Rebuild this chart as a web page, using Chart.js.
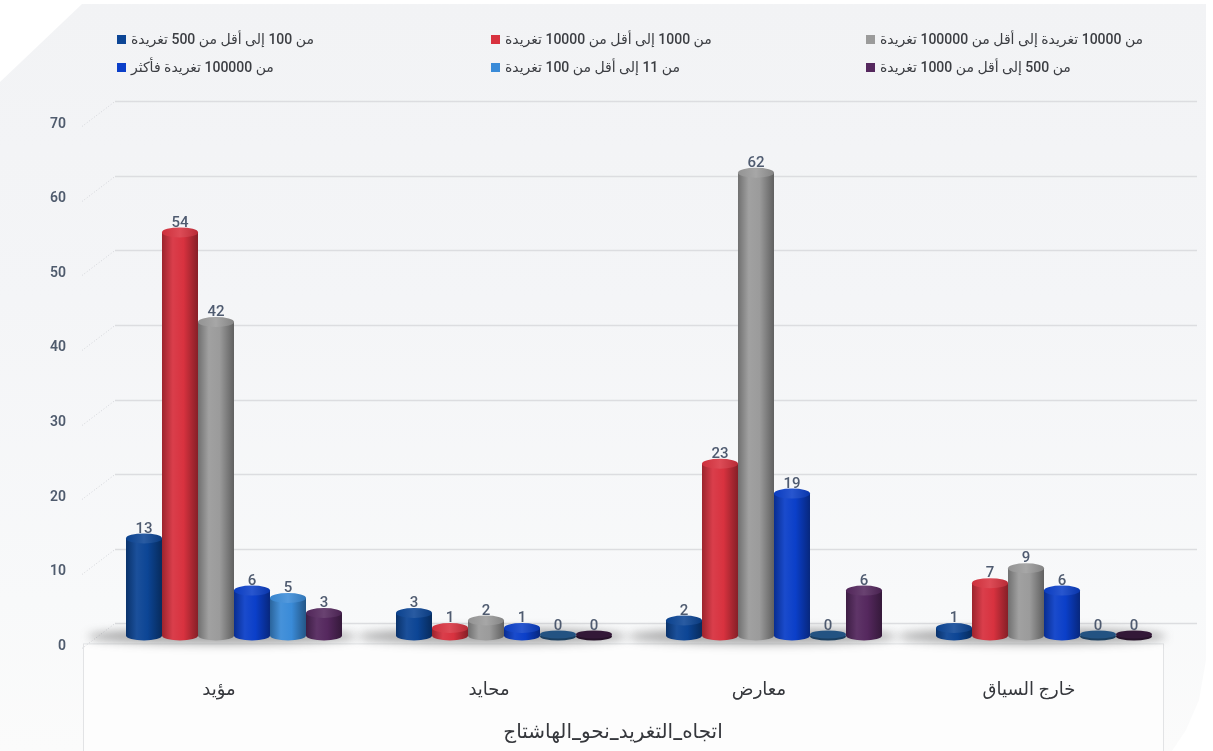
<!DOCTYPE html>
<html lang="ar">
<head>
<meta charset="utf-8">
<title>اتجاه التغريد نحو الهاشتاج</title>
<script src="https://cdn.jsdelivr.net/npm/chart.js@4.4.1/dist/chart.umd.min.js"></script>
<style>
    html, body { margin: 0; padding: 0; background: #fff; }
    #wrap { position: relative; width: 1213px; height: 751px; overflow: hidden; }
    #bg {
        position: absolute; inset: 0;
        background: linear-gradient(#f2f3f5 0%, #f4f5f7 40%, #f8f9fa 80%, #fbfbfb 100%);
        clip-path: polygon(82px 4px, 1206px 4px, 1206px 660px, 1199px 700px, 1186px 730px, 1172px 751px, 0 751px, 0 82px);
    }
    canvas { position: absolute; left: 0; top: 0; }
</style>
</head>
<body>
<div id="wrap">
    <div id="bg"></div>
    <canvas id="chartTrend" width="1213" height="751"></canvas>
</div>
<script>
// ==================================================
// DATA
// ==================================================
const categories = ['مؤيد', 'محايد', 'معارض', 'خارج السياق'];
const axisTitle = 'اتجاه_التغريد_نحو_الهاشتاج';

const seriesNames = [
    'من 100 إلى أقل من 500 تغريدة',
    'من 1000 إلى أقل من 10000 تغريدة',
    'من 10000 تغريدة إلى أقل من 100000 تغريدة',
    'من 100000 تغريدة فأكثر',
    'من 11 إلى أقل من 100 تغريدة',
    'من 500 إلى أقل من 1000 تغريدة',
];
const seriesColors = ['#0c4595', '#d8323f', '#9b9b9b', '#0b3fc9', '#3a8bd8', '#55285e'];

const from100to500 = [13, 3, 2, 1];
const from1000to10000 = [54, 1, 23, 7];
const from10000to100000 = [42, 2, 62, 9];
const from100000up = [6, 1, 19, 6];
const from11to100 = [5, 0, 0, 0];
const from500to1000 = [3, 0, 6, 0];

const yTicks = [0, 10, 20, 30, 40, 50, 60, 70];

const seriesValues = [from100to500, from1000to10000, from10000to100000, from100000up, from11to100, from500to1000];

const FONT = "Roboto, 'DejaVu Sans', sans-serif";
const CAP_RY = 5;       // half height of the cylinder caps
const WALL_DX = 16;     // depth offset of the back wall
const WALL_DY = 12;

// ==================================================
// HELPERS
// ==================================================
function shade(hex, amt) {
    const n = parseInt(hex.slice(1), 16);
    let r = (n >> 16) & 255, g = (n >> 8) & 255, b = n & 255;
    const t = amt < 0 ? 0 : 255, p = Math.abs(amt);
    r = Math.round(r + (t - r) * p); g = Math.round(g + (t - g) * p); b = Math.round(b + (t - b) * p);
    return `rgb(${r},${g},${b})`;
}

function drawCylinder(ctx, x, top, base, w, color) {
    const rx = w / 2, left = x - rx, right = x + rx;
    const body = ctx.createLinearGradient(left, 0, right, 0);
    body.addColorStop(0, shade(color, -0.28));
    body.addColorStop(0.3, shade(color, 0.06));
    body.addColorStop(0.6, color);
    body.addColorStop(1, shade(color, -0.38));

    if (base - top < 1) {
        // flat disc for zero values
        ctx.beginPath();
        ctx.ellipse(x, base + 1, rx, CAP_RY - 1, 0, 0, Math.PI * 2);
        ctx.fillStyle = shade(color, -0.55);
        ctx.fill();
        ctx.beginPath();
        ctx.ellipse(x, base - 1, rx, CAP_RY - 1, 0, 0, Math.PI * 2);
        ctx.fillStyle = shade(color, -0.4);
        ctx.fill();
        return;
    }

    ctx.beginPath();
    ctx.moveTo(left, top);
    ctx.lineTo(left, base);
    ctx.ellipse(x, base, rx, CAP_RY, 0, Math.PI, 0, true);
    ctx.lineTo(right, top);
    ctx.closePath();
    ctx.fillStyle = body;
    ctx.fill();

    const cap = ctx.createLinearGradient(left, 0, right, 0);
    cap.addColorStop(0, shade(color, -0.05));
    cap.addColorStop(0.5, shade(color, 0.12));
    cap.addColorStop(1, shade(color, -0.15));
    ctx.beginPath();
    ctx.ellipse(x, top, rx, CAP_RY, 0, 0, Math.PI * 2);
    ctx.fillStyle = cap;
    ctx.fill();
}

// ==================================================
// PLUGINS
// ==================================================
const backWall = {
    id: 'backWall',
    beforeDraw(chart) {
        const { ctx, chartArea, scales: { y } } = chart;
        const front = y.getPixelForValue(0) - WALL_DY + 20;
        // front panel holding the category labels
        ctx.save();
        ctx.fillStyle = '#fdfdfd';
        ctx.strokeStyle = '#e2e3e5';
        ctx.lineWidth = 1;
        ctx.fillRect(chartArea.left - WALL_DX, front, chartArea.right - chartArea.left, 200);
        ctx.strokeRect(chartArea.left - WALL_DX + 0.5, front + 0.5, chartArea.right - chartArea.left, 200);
        ctx.restore();
    },
    beforeDatasetsDraw(chart) {
        const { ctx, chartArea, scales: { y } } = chart;
        ctx.save();
        yTicks.forEach(v => {
            const gy = Math.round(y.getPixelForValue(v) - WALL_DY) + 0.5;
            ctx.strokeStyle = '#dcdde0';
            ctx.lineWidth = 1.5;
            ctx.beginPath();
            ctx.moveTo(chartArea.left + WALL_DX, gy);
            ctx.lineTo(chartArea.right + WALL_DX + 2, gy);
            ctx.stroke();
            ctx.strokeStyle = '#d3d5d9';
            ctx.lineWidth = 1;
            ctx.setLineDash([1, 2]);
            ctx.beginPath();
            ctx.moveTo(chartArea.left - WALL_DX - 1, gy + 25);
            ctx.lineTo(chartArea.left + WALL_DX, gy);
            ctx.stroke();
            ctx.setLineDash([]);
        });

        // soft shadow on the floor under each group
        const first = chart.getDatasetMeta(0).data;
        const last = chart.getDatasetMeta(chart.data.datasets.length - 1).data;
        const base = y.getPixelForValue(0);
        ctx.filter = 'blur(5px)';
        ctx.fillStyle = 'rgba(60,60,60,0.42)';
        first.forEach((el, i) => {
            const l = el.x - el.width / 2, r = last[i].x + last[i].width / 2;
            ctx.beginPath();
            ctx.ellipse((l + r) / 2 - 12, base + 1, (r - l) / 2 + 26, 8, 0, 0, Math.PI * 2);
            ctx.fill();
        });
        ctx.filter = 'none';
        ctx.restore();
    },
    afterDatasetsDraw(chart) {
        const { ctx } = chart;
        ctx.save();
        chart.data.datasets.forEach((ds, di) => {
            chart.getDatasetMeta(di).data.forEach(el => {
                drawCylinder(ctx, el.x, el.y, el.base, el.width, seriesColors[di]);
            });
        });
        // value labels above the caps
        ctx.font = `500 15px ${FONT}`;
        ctx.fillStyle = '#4f5b70';
        ctx.textAlign = 'center';
        ctx.textBaseline = 'bottom';
        chart.data.datasets.forEach((ds, di) => {
            chart.getDatasetMeta(di).data.forEach((el, i) => {
                ctx.fillText(String(ds.data[i]), el.x, el.y - 2);
            });
        });
        ctx.restore();
    },
    afterDraw(chart) {
        const { ctx, chartArea } = chart;
        ctx.save();
        // legend, three columns by two rows
        const cols = [117, 491, 866], rows = [40, 68];
        ctx.font = `500 14px ${FONT}`;
        ctx.textBaseline = 'middle';
        seriesNames.forEach((name, i) => {
            const bx = cols[i % 3], by = rows[Math.floor(i / 3)];
            ctx.fillStyle = seriesColors[i];
            ctx.fillRect(bx, by - 5, 9, 9);
            ctx.fillStyle = '#3b3d42';
            ctx.direction = 'rtl';
            ctx.textAlign = 'left';
            ctx.fillText(name, bx + 14, by);
        });
        // axis title on the front panel
        ctx.direction = 'rtl';
        ctx.textAlign = 'center';
        ctx.font = `500 20px ${FONT}`;
        ctx.fillStyle = '#35373c';
        ctx.fillText(axisTitle, (chartArea.left + chartArea.right) / 2 - 26, 733);
        ctx.restore();
    },
};

// ==================================================
// CHART
// ==================================================
new Chart(document.getElementById('chartTrend'), {
    type: 'bar',
    data: {
        labels: categories,
        datasets: seriesNames.map((name, i) => ({
            label: name,
            data: seriesValues[i],
            backgroundColor: 'rgba(0,0,0,0)',
            borderWidth: 0,
        })),
    },
    options: {
        responsive: false,
        animation: false,
        devicePixelRatio: 1,
        layout: { padding: { top: 113, right: 34, left: 17, bottom: 6 } },
        datasets: { bar: { categoryPercentage: 0.8, barPercentage: 1.0 } },
        scales: {
            x: {
                grid: { display: false, drawTicks: false },
                border: { display: false },
                ticks: { padding: 44, labelOffset: -15, color: '#35373c', font: { family: FONT, size: 18, weight: '500' } },
            },
            y: {
                min: 0, max: 70,
                afterBuildTicks: axis => { axis.ticks = yTicks.map(v => ({ value: v })); },
                grid: { display: false, drawTicks: false },
                border: { display: false },
                ticks: { padding: 33, labelOffset: 11, color: '#4f5b6d', font: { family: FONT, size: 14, weight: '600' } },
            },
        },
        plugins: { legend: { display: false }, tooltip: { enabled: false } },
    },
    plugins: [backWall],
});
</script>
</body>
</html>
